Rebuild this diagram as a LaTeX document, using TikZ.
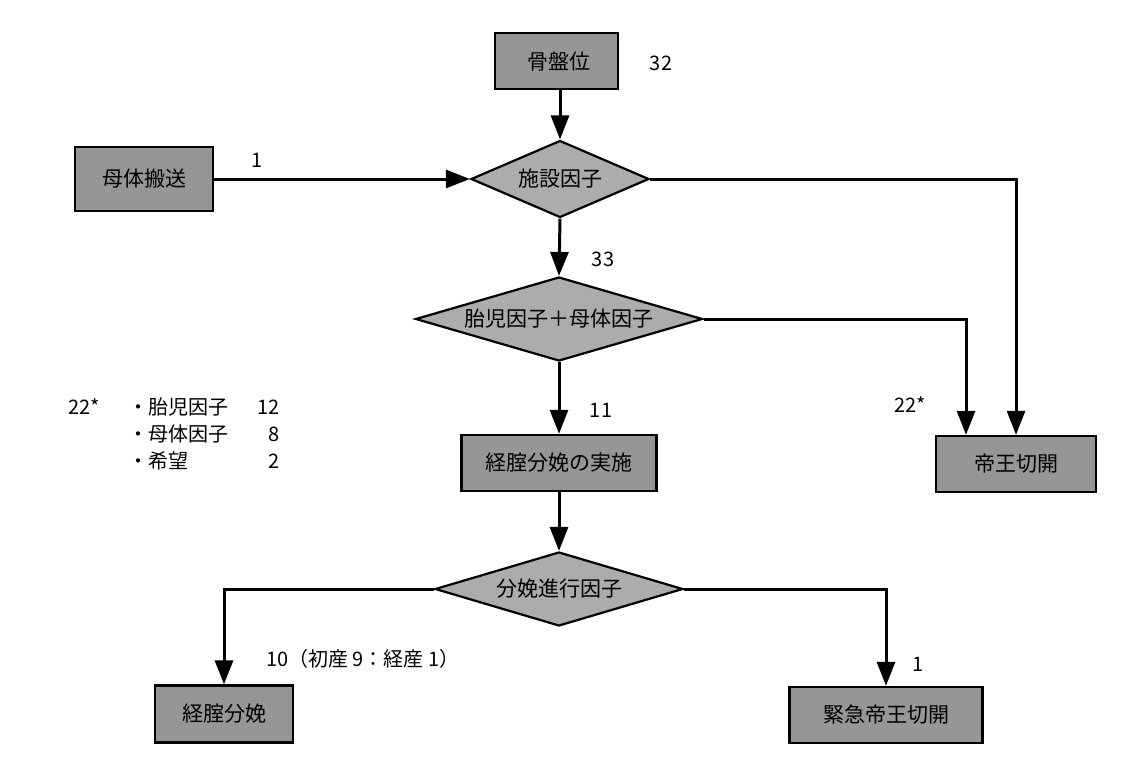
\documentclass[tikz,border=0pt]{standalone}
\usepackage{fontspec}
\setmainfont{Noto Sans CJK JP}
\usetikzlibrary{shapes.geometric,arrows.meta}
\definecolor{boxgray}{RGB}{150,150,150}
\definecolor{diagray}{RGB}{172,172,172}
\tikzset{
  stepbox/.style={draw=black, line width=2.4pt, fill=boxgray, inner sep=0pt,
    minimum height=56pt, font=\fontsize{21}{21}\selectfont},
  decide/.style={diamond, draw=black, line width=2.2pt, fill=diagray, inner sep=0pt,
    font=\fontsize{21}{21}\selectfont},
  conn/.style={line width=3pt, -{Triangle[length=24pt,width=18pt]}},
  lbl/.style={inner sep=0pt, font=\fontsize{20}{20}\selectfont},
}
\begin{document}
\begin{tikzpicture}[x=1pt,y=-1pt]
\useasboundingbox[fill=white] (0,0) rectangle (1137,763);

% nodes
\node[stepbox, minimum width=123pt, text depth=0pt] (pelvis) at (556.5,61) {\hspace*{5pt}骨盤位};
\node[decide, aspect=2.3, minimum width=178pt, minimum height=77pt] (fac) at (560,179) {施設因子};
\node[stepbox, minimum width=138pt, minimum height=64pt] (transport) at (144,179) {母体搬送};
\node[decide, aspect=3.4, minimum width=287pt, minimum height=84pt] (fm) at (559,319) {胎児因子＋母体因子};
\node[stepbox, minimum width=195pt] (trial) at (559,463) {経腟分娩の実施};
\node[stepbox, minimum width=160pt] (cs) at (1016,464) {帝王切開};
\node[decide, aspect=3.35, minimum width=248pt, minimum height=74pt] (prog) at (559,589) {分娩進行因子};
\node[stepbox, minimum width=138pt, minimum height=57pt] (vag) at (224,714) {経腟分娩};
\node[stepbox, minimum width=193pt] (ecs) at (886,715) {緊急帝王切開};

\coordinate (csleft) at ([xshift=-50pt]cs.north);
\coordinate (pelvisout) at (pelvis.south -| fac.north);

% connectors
\draw[conn] (pelvisout) -- (fac.north);
\draw[conn] (transport.east) -- (fac.west);
\draw[conn] (fac.east) -| (cs.north);
\draw[conn] (fac.south) -- (fm.north);
\draw[conn] (fm.east) -| (csleft);
\draw[conn] (fm.south) -- (trial.north);
\draw[conn] (trial.south) -- (prog.north);
\draw[conn] (prog.west) -| (vag.north);
\draw[conn] (prog.east) -| (ecs.north);

% labels
\node[lbl] (n32) at (661,63) {32};
\node[lbl] (n1a) at (257,160) {1};
\node[lbl] (n33) at (603,259) {33};
\node[lbl] (n11) at (601,410) {11};
\node[lbl] (n22b) at (910,405) {22*};
\node[lbl, anchor=west] (n10) at (266,659) {10（初産 9：経産 1）};
\node[lbl] (n1b) at (918,664) {1};

% list
\node[lbl] (n22a) at (84,407) {22*};
\node[lbl, anchor=west] (l1) at (128,407) {・胎児因子};
\node[lbl, anchor=west] (l2) at (128,434) {・母体因子};
\node[lbl, anchor=west] (l3) at (128,461) {・希望};
\node[lbl, anchor=east] (v1) at (280,407) {12};
\node[lbl, anchor=east] (v2) at (280,434) {8};
\node[lbl, anchor=east] (v3) at (280,461) {2};
\end{tikzpicture}
\end{document}
